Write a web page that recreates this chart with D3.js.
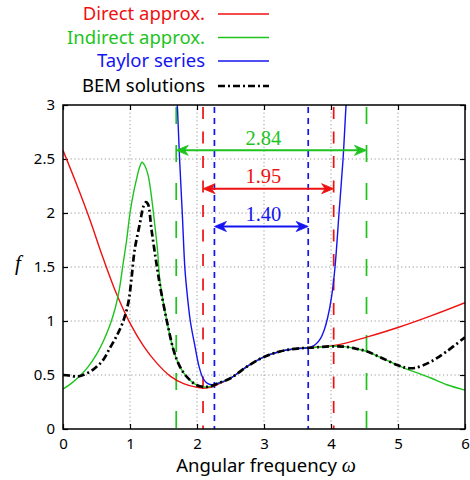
<!DOCTYPE html>
<html><head><meta charset="utf-8">
<script src="https://cdn.jsdelivr.net/npm/d3@7"></script>
<style>body{margin:0;background:#fff}svg{display:block}</style>
</head><body>
<script>
// ---- data ----
const xTicks = [0,1,2,3,4,5,6];
const yTicks = [0,0.5,1,1.5,2,2.5,3];
const yTickLabels = ["0","0.5","1","1.5","2","2.5","3"];
const seriesNames = ["Direct approx.","Indirect approx.","Taylor series","BEM solutions"];

const direct = [[0,2.58],[0.2,2.27],[0.4,1.94],[0.6,1.58],[0.8,1.25],[1.0,0.98],[1.2,0.77],[1.4,0.61],[1.6,0.49],[1.8,0.42],[2.0,0.385],[2.1,0.378],[2.2,0.385],[2.35,0.425],[2.5,0.47],[2.75,0.58],[3.0,0.667],[3.25,0.72],[3.5,0.745],[3.75,0.757],[4.0,0.77],[4.25,0.80],[4.53,0.85],[5.0,0.94],[5.5,1.05],[6.0,1.17]];
const indirect = [[0,0.37],[0.12,0.42],[0.25,0.49],[0.38,0.58],[0.5,0.69],[0.6,0.81],[0.7,0.96],[0.78,1.12],[0.84,1.29],[0.89,1.5],[0.95,1.75],[1.0,2.0],[1.05,2.18],[1.10,2.32],[1.14,2.42],[1.18,2.47],[1.22,2.44],[1.27,2.35],[1.31,2.2],[1.35,2.0],[1.41,1.66],[1.45,1.35],[1.55,1.0],[1.65,0.73],[1.72,0.61],[1.80,0.52],[1.9,0.45],[2.0,0.405],[2.1,0.39],[2.2,0.395],[2.3,0.42],[2.5,0.47],[2.75,0.58],[3.0,0.667],[3.25,0.72],[3.5,0.745],[3.75,0.755],[4.0,0.765],[4.2,0.763],[4.4,0.74],[4.53,0.72],[4.75,0.66],[5.0,0.59],[5.15,0.55],[5.33,0.51],[5.5,0.47],[5.73,0.41],[6.0,0.36]];
const taylor = [[1.695,3.1],[1.71,2.95],[1.74,2.5],[1.78,2.0],[1.82,1.48],[1.85,1.27],[1.90,1.0],[1.97,0.765],[2.03,0.58],[2.09,0.47],[2.15,0.425],[2.22,0.41],[2.3,0.42],[2.5,0.47],[2.75,0.58],[3.0,0.667],[3.25,0.72],[3.5,0.745],[3.66,0.752],[3.72,0.765],[3.78,0.79],[3.84,0.835],[3.9,0.92],[3.95,1.03],[4.01,1.23],[4.06,1.5],[4.12,2.0],[4.18,2.5],[4.22,2.95],[4.235,3.1]];
const bem = [[0,0.50],[0.1,0.495],[0.2,0.485],[0.3,0.50],[0.45,0.55],[0.6,0.64],[0.7,0.75],[0.8,0.86],[0.9,1.0],[0.975,1.17],[1.02,1.38],[1.07,1.66],[1.15,1.91],[1.20,2.06],[1.24,2.10],[1.27,2.08],[1.32,1.85],[1.40,1.51],[1.45,1.32],[1.55,1.0],[1.65,0.73],[1.72,0.61],[1.80,0.52],[1.9,0.45],[2.0,0.405],[2.1,0.39],[2.2,0.395],[2.3,0.42],[2.5,0.47],[2.75,0.58],[3.0,0.667],[3.25,0.72],[3.5,0.745],[3.75,0.755],[4.0,0.765],[4.2,0.763],[4.4,0.74],[4.53,0.72],[4.75,0.66],[5.0,0.59],[5.12,0.567],[5.25,0.565],[5.48,0.62],[5.73,0.72],[6.0,0.85]];

const boundLeft = [2.09,1.69,2.26];   // direct, indirect, taylor
const boundRight = [4.04,4.53,3.66];
const arrowY = [2.225,2.58,1.875];
const widthLabels = ["1.95","2.84","1.40"];
const labelX = 2.99;

// ---- drawing ----
const W=470,H=480;
const M={l:63,r:465,t:105,b:429};
const colors=["#ee1111","#1ec31e","#1414f0","#000"];
const x=d3.scaleLinear().domain([0,6]).range([M.l,M.r]);
const y=d3.scaleLinear().domain([0,3]).range([M.b,M.t]);
const svg=d3.select("body").append("svg").attr("width",W).attr("height",H);
const sans="'Noto Sans', sans-serif";

// grid
const grid=svg.append("g").attr("stroke","#9a9a9a").attr("stroke-width",1).attr("stroke-dasharray","1.2,2.6");
grid.selectAll(".gx").data(xTicks.slice(1,-1)).join("line").attr("x1",d=>x(d)).attr("x2",d=>x(d)).attr("y1",M.t).attr("y2",M.b);
grid.selectAll(".gy").data(yTicks.slice(1,-1)).join("line").attr("y1",d=>y(d)).attr("y2",d=>y(d)).attr("x1",M.l).attr("x2",M.r);

// axes
const axB=d3.axisBottom(x).tickValues(xTicks).tickSize(-5).tickPadding(9).tickFormat(d3.format("d"));
const axL=d3.axisLeft(y).tickValues(yTicks).tickSize(-5).tickPadding(8).tickFormat((d,i)=>yTickLabels[i]);
const axT=d3.axisTop(x).tickValues(xTicks).tickSize(-5).tickFormat("");
const axR=d3.axisRight(y).tickValues(yTicks).tickSize(-5).tickFormat("");
function styleAx(g){g.select(".domain").remove();g.selectAll("line").attr("stroke","#000").attr("stroke-width",1.2);g.selectAll("text").attr("font-family",sans).attr("font-size",15).attr("fill","#000");}
svg.append("g").attr("transform",`translate(0,${M.b})`).call(axB).call(styleAx);
svg.append("g").attr("transform",`translate(${M.l},0)`).call(axL).call(styleAx);
svg.append("g").attr("transform",`translate(0,${M.t})`).call(axT).call(styleAx);
svg.append("g").attr("transform",`translate(${M.r},0)`).call(axR).call(styleAx);

// clip
svg.append("clipPath").attr("id","clip").append("rect").attr("x",M.l).attr("y",M.t).attr("width",M.r-M.l).attr("height",M.b-M.t);
const plot=svg.append("g").attr("clip-path","url(#clip)");

// vertical bounds
const vdash=["12,12.5","17,21","6,5"];
const vorder=[1,0,2];
vorder.forEach(i=>{
  [boundLeft[i],boundRight[i]].forEach(v=>{
    plot.append("line").attr("x1",x(v)).attr("x2",x(v)).attr("y1",M.t+2).attr("y2",M.b)
      .attr("stroke",colors[i]).attr("stroke-width",1.7).attr("stroke-dasharray",vdash[i]);
  });
});

// curves
const line=d3.line().x(d=>x(d[0])).y(d=>y(d[1])).curve(d3.curveCatmullRom.alpha(0.5));
plot.append("path").datum(direct).attr("d",line).attr("fill","none").attr("stroke",colors[0]).attr("stroke-width",1.4);
plot.append("path").datum(indirect).attr("d",line).attr("fill","none").attr("stroke",colors[1]).attr("stroke-width",1.4);
plot.append("path").datum(taylor).attr("d",line).attr("fill","none").attr("stroke",colors[2]).attr("stroke-width",1.4);
plot.append("path").datum(bem).attr("d",line).attr("fill","none").attr("stroke","#000").attr("stroke-width",2.7).attr("stroke-dasharray","7,3,2,3");

// width arrows
function head(g,tx,ty,dir,c){
  const L=12,h=5,n=3.5;
  const p=[[tx,ty],[tx-dir*L,ty-h],[tx-dir*(L-n),ty],[tx-dir*L,ty+h]];
  g.append("path").attr("d","M"+p.map(q=>q.join(",")).join("L")+"Z").attr("fill",c).attr("stroke",c).attr("stroke-width",0.8).attr("stroke-linejoin","miter");
}
[1,0,2].forEach(i=>{
  const g=svg.append("g");
  const x1=x(boundLeft[i]),x2=x(boundRight[i]),yy=y(arrowY[i]);
  g.append("line").attr("x1",x1+6).attr("x2",x2-6).attr("y1",yy).attr("y2",yy).attr("stroke",colors[i]).attr("stroke-width",2);
  head(g,x1,yy,-1,colors[i]);head(g,x2,yy,1,colors[i]);
  g.append("text").attr("x",x(labelX)).attr("y",yy-5.5).attr("text-anchor","middle")
    .attr("font-family","'Liberation Serif', serif").attr("font-size",20.5).attr("fill",colors[i]).text(widthLabels[i]);
});

// frame
svg.append("rect").attr("x",M.l).attr("y",M.t).attr("width",M.r-M.l).attr("height",M.b-M.t).attr("fill","none").attr("stroke","#000").attr("stroke-width",1.5);

// axis titles
const xt=svg.append("text").attr("x",266).attr("y",471.5).attr("text-anchor","middle").attr("font-family",sans).attr("font-size",18.5).attr("fill","#000");
xt.append("tspan").text("Angular frequency ");
xt.append("tspan").attr("font-family","'Liberation Serif', serif").attr("font-style","italic").attr("font-size",20).text("ω");
svg.append("text").attr("x",18).attr("y",270).attr("text-anchor","middle").attr("font-family","'Liberation Serif', serif").attr("font-style","italic").attr("font-size",21).text("f");

// legend
const legBase=[20,43.5,67,92];
const leg=svg.append("g");
seriesNames.forEach((s,i)=>{
  leg.append("text").attr("x",205).attr("y",legBase[i]).attr("text-anchor","end").attr("font-family",sans).attr("font-size",18.5).attr("fill",colors[i]).text(s);
  const l=leg.append("line").attr("x1",218).attr("x2",269).attr("y1",legBase[i]-6).attr("y2",legBase[i]-6).attr("stroke",colors[i]);
  if(i===3) l.attr("stroke-width",2.7).attr("stroke-dasharray","7,3,2,3"); else l.attr("stroke-width",1.4);
});
</script>
</body></html>
